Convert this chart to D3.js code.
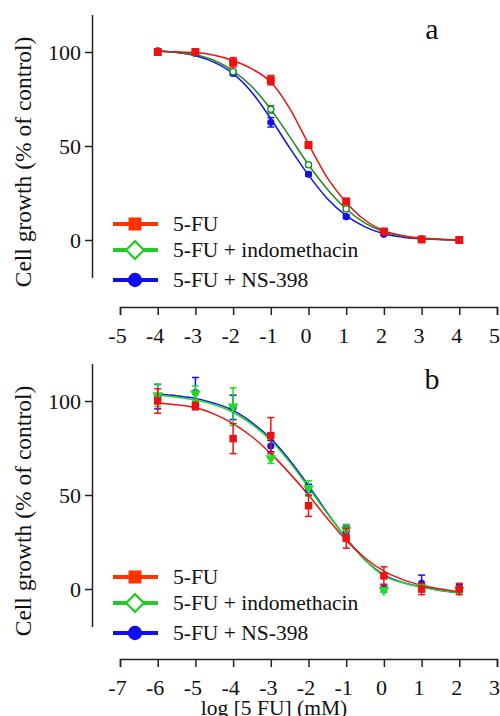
<!DOCTYPE html>
<html>
<head>
<meta charset="utf-8">
<script src="https://cdn.jsdelivr.net/npm/d3@7"></script>
<style>
  body { margin: 0; background: #fff; }
  svg, svg text { font-family: "Liberation Serif", "Times New Roman", Times, serif; }
</style>
</head>
<body>
<div id="chart"></div>
<script>
// --- Data: panel a ---
const xA = [-4, -3, -2, -1, 0, 1, 2, 3, 4];
const fuA = [100, 100, 94.5, 85, 50.5, 20.5, 4.5, 0.3, 0];
const fuAErr = [1.5, 1, 2.5, 2.5, 1.5, 1.5, 1, 0.5, 0.5];
const indoA = [100.5, 99.5, 89.5, 69.5, 40, 16.5, 4.5, 0.5, 0];
const indoAErr = [0.5, 0.5, 1, 2, 1, 1, 0.5, 0.3, 0.3];
const nsA = [100.5, 99.2, 88.6, 62.6, 35, 12.4, 3, 0.2, 0];
const nsAErr = [0.5, 0.5, 1, 2.5, 1, 1, 0.5, 0.3, 0.3];

// fitted curves (half-log steps)
const fitXA = [-4, -3.5, -3, -2.5, -2, -1.5, -1, -0.5, 0, 0.5, 1, 1.5, 2, 2.5, 3, 3.5, 4];
const fuFitA = [100.3, 100.1, 99.7, 98.3, 95.5, 91, 84, 70, 51, 33, 20, 10.5, 5, 2.3, 1, 0.4, 0];
const indoFitA = [100.5, 99.8, 98.5, 95.5, 90, 81.5, 69.5, 55, 40, 27, 16.5, 9, 4.5, 2, 0.8, 0.3, 0];
const nsFitA = [100.5, 99.7, 98, 94.5, 88.5, 78.5, 64.5, 49, 34.5, 22, 13, 7, 3.3, 1.5, 0.6, 0.2, 0];

// --- Data: panel b ---
const xB = [-6, -5, -4, -3, -2, -1, 0, 1, 2];
const fuB = [100, 97.3, 80, 81.6, 44.3, 27, 7, 0, 0];
const fuBErr = [6.5, 2, 8, 9.6, 5.7, 5.3, 4.8, 3, 3];
const indoB = [103, 104, 97, 69.5, 53.5, 31.4, -0.5, 0.8, -0.5];
const indoBErr = [6, 4, 10, 2.7, 4, 3, 1, 1.5, 1.5];
const nsB = [102.3, 104.5, 96.6, 76, 52.7, 30.5, 0.5, 3, 0.5];
const nsBErr = [6.5, 8, 6.5, 3, 3, 3, 2, 4.4, 2];

const fitXB = [-6, -5.5, -5, -4.5, -4, -3.5, -3, -2.5, -2, -1.5, -1, -0.5, 0, 0.5, 1, 1.5, 2];
const fuFitB = [99, 98, 96.5, 93, 88, 81, 72, 61.5, 50, 37.5, 26, 16.5, 9.5, 5, 2, 0, -1.5];
const indoFitB = [103, 102, 100.5, 98, 94, 87.5, 79, 67.5, 54, 40, 27, 15.5, 7, 3.3, 1, -0.8, -2];
const nsFitB = [103.7, 102.8, 101.4, 98.8, 95, 88.5, 80, 68.5, 55, 40.5, 27, 15.5, 7.5, 3.5, 1.2, -0.8, -2];

// --- Axis ticks & labels ---
const yTicks = [0, 50, 100];
const xTicksA = [-5, -4, -3, -2, -1, 0, 1, 2, 3, 4, 5];
const xTicksB = [-7, -6, -5, -4, -3, -2, -1, 0, 1, 2, 3];
const legendNames = ["5-FU", "5-FU + indomethacin", "5-FU + NS-398"];
const yTitle = "Cell growth (% of control)";
const xTitle = "log [5 FU] (mM)";

const serif = '"Liberation Serif", "Times New Roman", Times, serif';
const width = 500, height = 716;
const svg = d3.select("#chart").append("svg")
    .attr("width", width)
    .attr("height", height)
    .attr("font-family", serif);

function zip(xs, ys, errs) {
    return xs.map((x, i) => ({ x: x, y: ys[i], e: errs ? errs[i] : 0 }));
}

function drawPanel(cfg) {
    const x = d3.scaleLinear().domain(cfg.xDomain).range([120, 497]);
    const y = d3.scaleLinear().domain([-20, 120]).range([cfg.yBottom, cfg.yBottom - 263.2]);
    const g = svg.append("g");

    // y axis
    const yAxis = g.append("g")
        .attr("transform", "translate(92,0)")
        .call(d3.axisLeft(y).tickValues(yTicks).tickFormat(d => String(d))
            .tickSize(7).tickSizeOuter(0).tickPadding(4));
    yAxis.attr("font-family", serif);
    yAxis.select(".domain").attr("stroke", "#222").attr("stroke-width", 1.5);
    yAxis.selectAll(".tick line").attr("stroke", "#222").attr("stroke-width", 1.5);
    yAxis.selectAll(".tick text")
        .attr("fill", "#111")
        .style("font-size", "22px");

    // x axis
    const xAxis = g.append("g")
        .attr("transform", `translate(0,${cfg.xAxisY})`)
        .call(d3.axisBottom(x).tickValues(cfg.xTicks).tickFormat(d => String(d))
            .tickSize(8).tickSizeOuter(8).tickPadding(12));
    xAxis.attr("font-family", serif);
    xAxis.select(".domain").attr("stroke", "#222").attr("stroke-width", 1.5);
    xAxis.selectAll(".tick line").attr("stroke", "#222").attr("stroke-width", 1.5);
    xAxis.selectAll(".tick text")
        .attr("fill", "#111")
        .attr("dx", -3)
        .style("font-size", "22px");

    // y title
    g.append("text")
        .attr("transform", `translate(31,${cfg.titleY}) rotate(-90)`)
        .attr("text-anchor", "middle")
        .style("font-size", "23.5px")
        .attr("fill", "#111")
        .text(yTitle);

    // panel letter
    g.append("text")
        .attr("x", 432)
        .attr("y", cfg.letterY)
        .attr("text-anchor", "middle")
        .style("font-size", "30px")
        .attr("fill", "#111")
        .text(cfg.letter);

    const line = d3.line()
        .x(d => x(d.x))
        .y(d => y(d.y))
        .curve(d3.curveMonotoneX);

    // draw series back to front: NS-398, indomethacin, 5-FU
    cfg.series.slice().reverse().forEach(s => {
        g.append("path")
            .datum(zip(cfg.fitX, s.fit))
            .attr("fill", "none")
            .attr("stroke", s.lineColor)
            .attr("stroke-width", 1.5)
            .attr("d", line);
    });

    cfg.series.slice().reverse().forEach(s => {
        const pts = zip(cfg.x, s.values, s.errs);
        const eb = g.append("g").attr("stroke", s.color).attr("stroke-width", 1.5);
        pts.forEach(d => {
            if (d.e <= 0) return;
            eb.append("line").attr("x1", x(d.x)).attr("x2", x(d.x))
                .attr("y1", y(d.y - d.e)).attr("y2", y(d.y + d.e));
            [d.y - d.e, d.y + d.e].forEach(v => {
                eb.append("line").attr("x1", x(d.x) - 3.5).attr("x2", x(d.x) + 3.5)
                    .attr("y1", y(v)).attr("y2", y(v));
            });
        });
        const sym = d3.symbol().type(s.shape).size(s.size);
        g.append("g").selectAll("path")
            .data(pts)
            .join("path")
            .attr("transform", d => `translate(${x(d.x)},${y(d.y)})` + (s.rotate ? ` rotate(${s.rotate})` : ""))
            .attr("d", sym)
            .attr("fill", s.open ? "#fff" : s.color)
            .attr("stroke", s.color)
            .attr("stroke-width", s.open ? 1.3 : 0);
    });

    // legend
    const legendItems = [
        { shape: d3.symbolSquare, size: 170, color: "#ff3300", open: false },
        { shape: d3.symbolDiamond2, size: 200, color: "#22cc22", open: true },
        { shape: d3.symbolCircle, size: 160, color: "#1010ee", open: false }
    ];
    legendItems.forEach((it, i) => {
        const ly = cfg.legendY[i];
        const lg = g.append("g").attr("transform", `translate(0,${ly})`);
        lg.append("line")
            .attr("x1", 113).attr("x2", 158)
            .attr("y1", 0).attr("y2", 0)
            .attr("stroke", it.color)
            .attr("stroke-width", 4);
        lg.append("path")
            .attr("transform", "translate(135,0)")
            .attr("d", d3.symbol().type(it.shape).size(it.size))
            .attr("fill", it.open ? "#fff" : it.color)
            .attr("stroke", it.color)
            .attr("stroke-width", it.open ? 2.2 : 0);
        lg.append("text")
            .attr("x", 173)
            .attr("y", 7)
            .style("font-size", "21.5px")
            .attr("fill", "#111")
            .text(legendNames[i]);
    });
}

drawPanel({
    xDomain: [-5, 5],
    xTicks: xTicksA,
    yBottom: 277.6,
    xAxisY: 307,
    titleY: 162,
    letter: "a",
    letterY: 39,
    legendY: [224, 250, 280],
    x: xA,
    fitX: fitXA,
    series: [
        { values: fuA, errs: fuAErr, fit: fuFitA, color: "#ee1111", lineColor: "#ee1111", shape: d3.symbolSquare, size: 64 },
        { values: indoA, errs: indoAErr, fit: indoFitA, color: "#1f8a1f", lineColor: "#1f8a1f", shape: d3.symbolCircle, size: 30, open: true },
        { values: nsA, errs: nsAErr, fit: nsFitA, color: "#1010ee", lineColor: "#1010ee", shape: d3.symbolCircle, size: 40 }
    ]
});

drawPanel({
    xDomain: [-7, 3],
    xTicks: xTicksB,
    yBottom: 626.6,
    xAxisY: 659,
    titleY: 511,
    letter: "b",
    letterY: 389,
    legendY: [577, 603, 633],
    x: xB,
    fitX: fitXB,
    series: [
        { values: fuB, errs: fuBErr, fit: fuFitB, color: "#ee1111", lineColor: "#ee1111", shape: d3.symbolSquare, size: 56 },
        { values: indoB, errs: indoBErr, fit: indoFitB, color: "#22dd22", lineColor: "#22dd22", shape: d3.symbolTriangle, size: 50, rotate: 180 },
        { values: nsB, errs: nsBErr, fit: nsFitB, color: "#1010ee", lineColor: "#1010ee", shape: d3.symbolCircle, size: 40 }
    ]
});

// x axis title (bottom panel only)
svg.append("text")
    .attr("x", 274)
    .attr("y", 715)
    .attr("text-anchor", "middle")
    .style("font-size", "21.5px")
    .attr("fill", "#111")
    .text(xTitle);
</script>
</body>
</html>
